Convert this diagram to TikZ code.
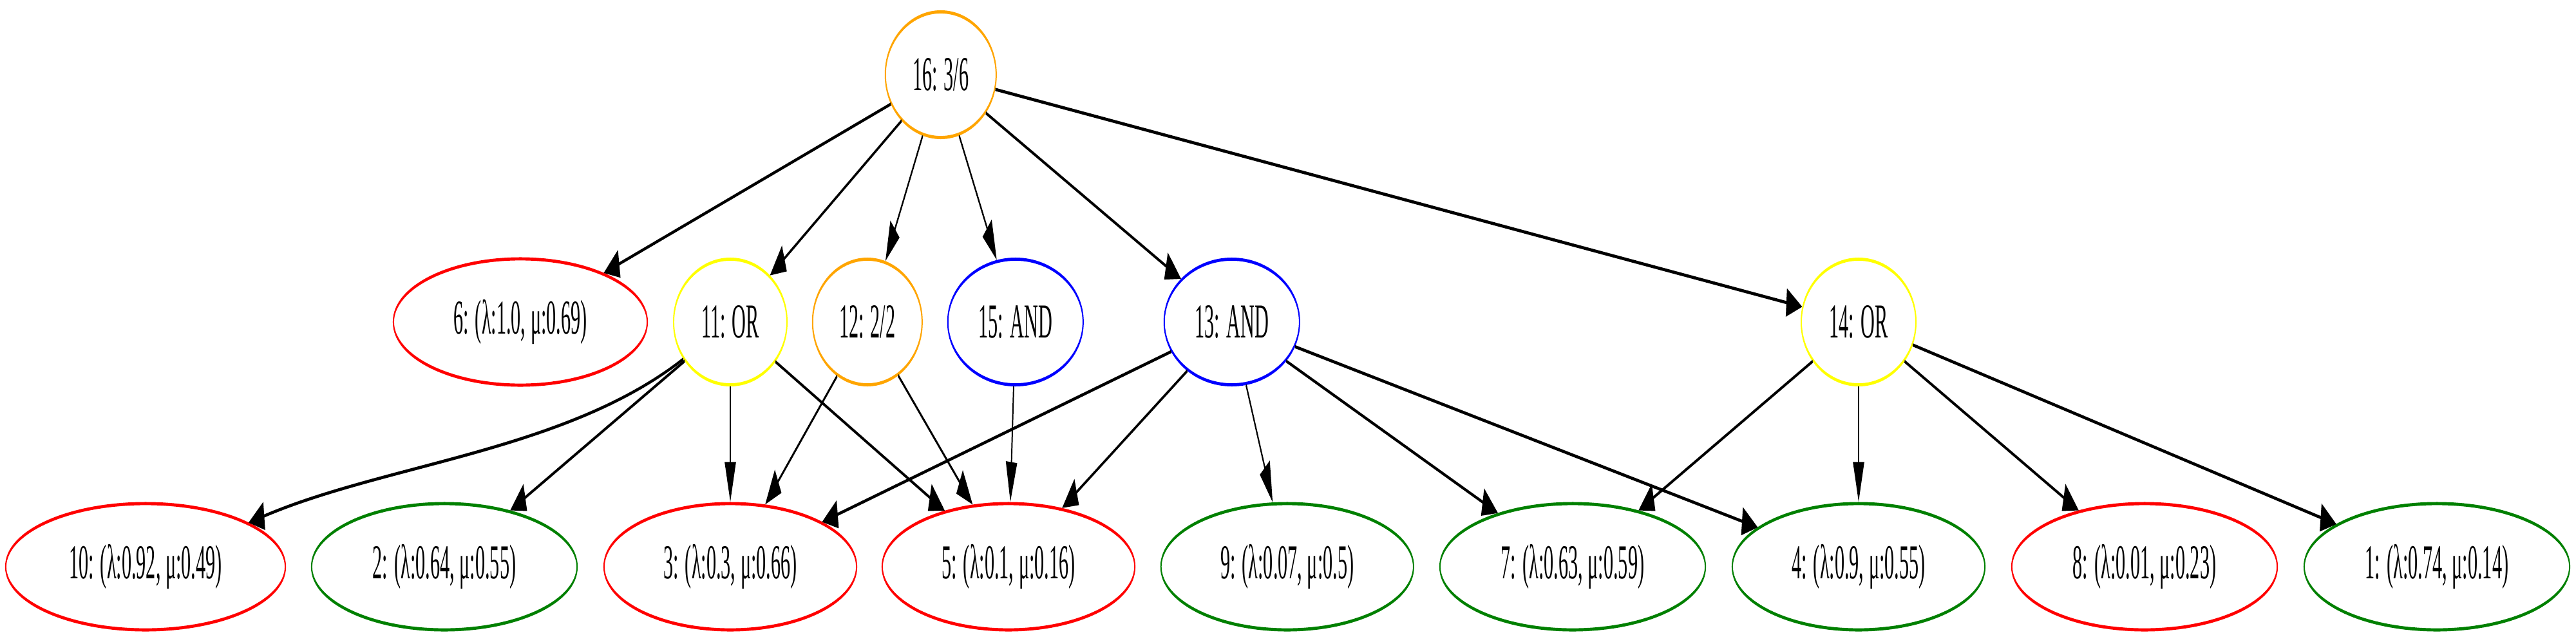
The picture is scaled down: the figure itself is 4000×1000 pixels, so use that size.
\documentclass[tikz,border=0pt]{standalone}
\usepackage{fontspec}
\setmainfont{Liberation Serif}
\usetikzlibrary{shapes.geometric}
\usetikzlibrary{arrows.meta}
\definecolor{gvred}{RGB}{255,0,0}
\definecolor{gvgreen}{RGB}{0,128,0}
\definecolor{gvblue}{RGB}{0,0,255}
\definecolor{gvyellow}{RGB}{255,255,0}
\definecolor{gvorange}{RGB}{255,165,0}

\begin{document}
\begin{tikzpicture}[x = 0.01cm, y = -0.01cm,
    gate/.style = {ellipse, draw, line width = 1.4pt, minimum height = 1.95cm, inner sep = 0pt,
      font = \fontsize{21.5}{24}\selectfont},
    leaf/.style = {gate, minimum height = 1.96cm},
    edge/.style = {line width = 1.4pt, -{Triangle[length = 0.62cm, width = 0.43cm]}}]
  \useasboundingbox (0,0) rectangle (4000,1000);
  \begin{scope}[transform canvas = {xscale = 0.4}]
        \node[gate, draw = gvorange, minimum width = 4.3cm] (n16) at (3652,116) {16: 3/6};
        \node[leaf, draw = gvred, minimum width = 9.85cm] (n6) at (2020,500) {6: (λ:1.0, μ:0.69)};
        \node[gate, draw = gvyellow, minimum width = 4.4cm] (n11) at (2835,500) {11: OR};
        \node[gate, draw = gvorange, minimum width = 4.25cm] (n12) at (3367,500) {12: 2/2};
        \node[gate, draw = gvblue, minimum width = 5.25cm] (n15) at (3942,500) {15: AND};
        \node[gate, draw = gvblue, minimum width = 5.25cm] (n13) at (4782,500) {13: AND};
        \node[gate, draw = gvyellow, minimum width = 4.45cm] (n14) at (7215,500) {14: OR};
        \node[leaf, draw = gvred, minimum width = 10.85cm] (n10) at (565,880) {10: (λ:0.92, μ:0.49)};
        \node[leaf, draw = gvgreen, minimum width = 10.3cm] (n2) at (1725,880) {2: (λ:0.64, μ:0.55)};
        \node[leaf, draw = gvred, minimum width = 9.8cm] (n3) at (2835,880) {3: (λ:0.3, μ:0.66)};
        \node[leaf, draw = gvred, minimum width = 9.8cm] (n5) at (3915,880) {5: (λ:0.1, μ:0.16)};
        \node[leaf, draw = gvgreen, minimum width = 9.8cm] (n9) at (4997,880) {9: (λ:0.07, μ:0.5)};
        \node[leaf, draw = gvgreen, minimum width = 10.3cm] (n7) at (6105,880) {7: (λ:0.63, μ:0.59)};
        \node[leaf, draw = gvgreen, minimum width = 9.8cm] (n4) at (7215,880) {4: (λ:0.9, μ:0.55)};
        \node[leaf, draw = gvred, minimum width = 10.3cm] (n8) at (8325,880) {8: (λ:0.01, μ:0.23)};
        \node[leaf, draw = gvgreen, minimum width = 10.3cm] (n1) at (9460,880) {1: (λ:0.74, μ:0.14)};
        \draw[edge] (n16) -- (n6);
        \draw[edge] (n16) -- (n11);
        \draw[edge] (n16) -- (n12);
        \draw[edge] (n16) -- (n15);
        \draw[edge] (n16) -- (n13);
        \draw[edge] (n16) -- (n14);
        \draw[edge] (n11) .. controls (2200,700) and (1500,720) .. (n10);
        \draw[edge] (n11) -- (n2);
        \draw[edge] (n11) -- (n3);
        \draw[edge] (n11) -- (n5);
        \draw[edge] (n12) -- (n3);
        \draw[edge] (n12) -- (n5);
        \draw[edge] (n15) -- (n5);
        \draw[edge] (n13) -- (n3);
        \draw[edge] (n13) -- (n5);
        \draw[edge] (n13) -- (n9);
        \draw[edge] (n13) -- (n7);
        \draw[edge] (n13) -- (n4);
        \draw[edge] (n14) -- (n7);
        \draw[edge] (n14) -- (n4);
        \draw[edge] (n14) -- (n8);
        \draw[edge] (n14) -- (n1);
  \end{scope}
\end{tikzpicture}
\end{document}
